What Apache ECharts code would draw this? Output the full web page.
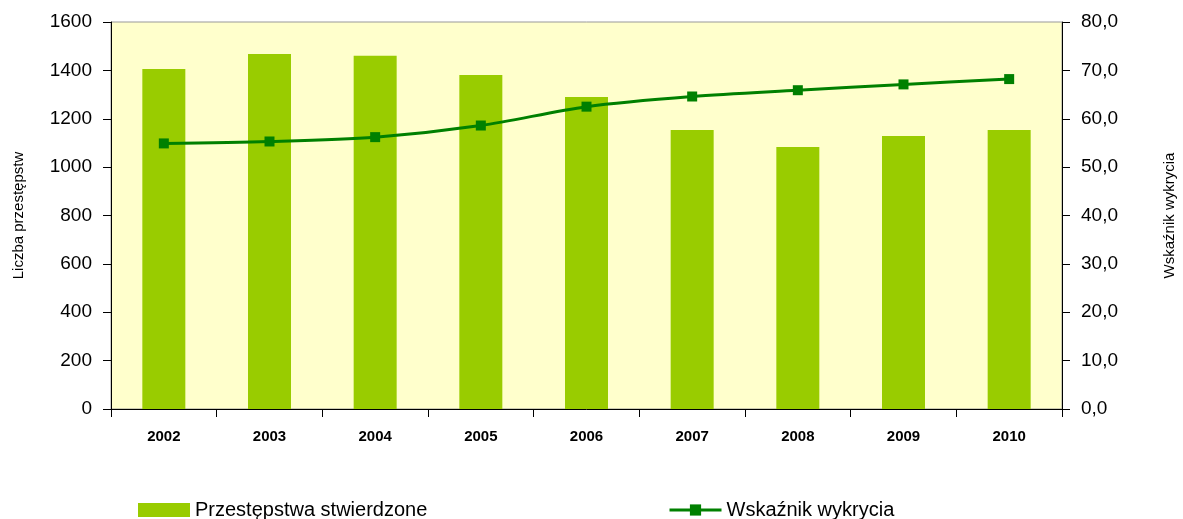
<!DOCTYPE html>
<html>
<head>
<meta charset="utf-8">
<script src="https://cdn.jsdelivr.net/npm/echarts@6/dist/echarts.min.js"></script>
<style>
  html, body { margin: 0; padding: 0; background: #fff; }
  #chart { width: 1183px; height: 519px; }
</style>
</head>
<body>
<div id="chart"></div>
<script>
// lata
const years = ['2002', '2003', '2004', '2005', '2006', '2007', '2008', '2009', '2010'];
// przestępstwa stwierdzone
const crimes = [1406, 1468, 1460, 1381, 1290, 1154, 1083, 1129, 1154];
// wskaźnik wykrycia (%)
const detection = [54.9, 55.3, 56.2, 58.6, 62.5, 64.6, 65.9, 67.1, 68.2];

const chart = echarts.init(document.getElementById('chart'));
const font = 'Liberation Sans, Arial, sans-serif';

const option = {
  animation: false,
  textStyle: { fontFamily: font },
  grid: {
    left: 111, right: 121, top: 22, bottom: 110,
    outerBoundsMode: 'none', containLabel: false,
    show: true, backgroundColor: '#FFFFCC', borderColor: '#999', borderWidth: 1
  },
  legend: [
    {
      data: [{ name: 'Przestępstwa stwierdzone', icon: 'rect' }],
      left: 133, top: 495, itemWidth: 52, itemHeight: 14,
      textStyle: { fontSize: 20, color: '#000', fontFamily: font }
    },
    {
      data: ['Wskaźnik wykrycia'],
      left: 663, top: 495, itemWidth: 52, itemHeight: 14,
      lineStyle: { width: 3 },
      textStyle: { fontSize: 20, color: '#000', fontFamily: font }
    }
  ],
  xAxis: {
    type: 'category',
    data: years,
    axisLine: { lineStyle: { color: '#000', width: 1 } },
    axisTick: { show: true, length: 8, inside: false, lineStyle: { color: '#000' } },
    axisLabel: { fontSize: 15, fontWeight: 'bold', color: '#000', margin: 20 }
  },
  yAxis: [
    {
      type: 'value', min: 0, max: 1600, interval: 200,
      name: 'Liczba przestępstw', nameLocation: 'middle', nameGap: 85,
      nameTextStyle: { fontSize: 15, color: '#000' },
      axisLine: { show: true, lineStyle: { color: '#000' } },
      axisTick: { show: true, length: 8, lineStyle: { color: '#000' } },
      axisLabel: { fontSize: 19, color: '#000', margin: 19, formatter: v => String(v) },
      splitLine: { show: false }
    },
    {
      type: 'value', min: 0, max: 80, interval: 10,
      name: 'Wskaźnik wykrycia', nameLocation: 'middle', nameGap: 100, nameRotate: 90,
      nameTextStyle: { fontSize: 15, color: '#000' },
      axisLine: { show: true, lineStyle: { color: '#000' } },
      axisTick: { show: true, length: 8, lineStyle: { color: '#000' } },
      axisLabel: {
        fontSize: 19, color: '#000', margin: 19,
        formatter: v => v.toFixed(1).replace('.', ',')
      },
      splitLine: { show: false }
    }
  ],
  series: [
    {
      name: 'Przestępstwa stwierdzone',
      type: 'bar',
      data: crimes,
      barWidth: 43,
      itemStyle: { color: '#99CC00' }
    },
    {
      name: 'Wskaźnik wykrycia',
      type: 'line',
      yAxisIndex: 1,
      data: detection,
      smooth: 0.3,
      symbol: 'rect',
      symbolSize: 10,
      lineStyle: { color: '#008000', width: 3 },
      itemStyle: { color: '#008000' }
    }
  ]
};

option && chart.setOption(option);
</script>
</body>
</html>
